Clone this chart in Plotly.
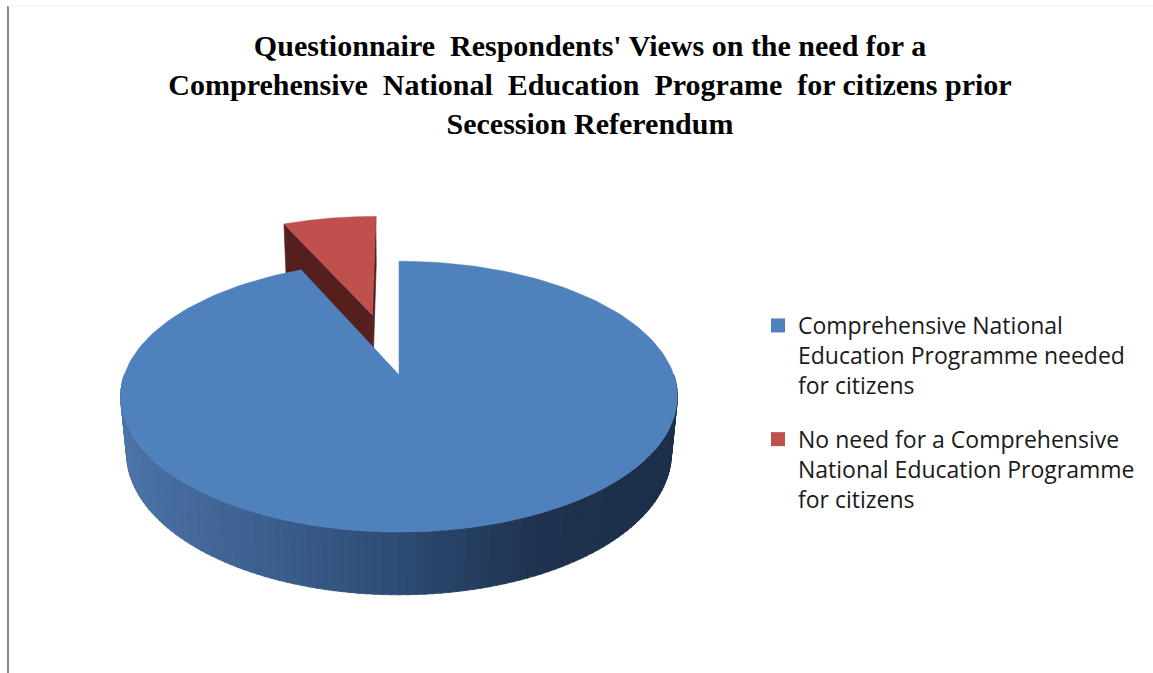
import numpy as np
import plotly.graph_objects as go

# Survey responses (share of respondents, %)
labels = [
    "Comprehensive National<br>Education Programme needed<br>for citizens",
    "No need for a Comprehensive<br>National Education Programme<br>for citizens",
]
values = [93.3, 6.7]
top_colors = ["#4F81BD", "#C0504D"]
wall_colors = ["#2E4C72", "#551F1D"]
pulls = [0.0, 0.5]

title_text = ("Questionnaire  Respondents' Views on the need for a<br>"
              "Comprehensive  National  Education  Programe  for citizens prior<br>"
              "Secession Referendum")

W, H = 1153, 673

# ---- simple perspective camera for the 3-D pie ----
PHI = np.radians(30)      # elevation of the viewer
DIST = 5.5                # viewer distance (in pie radii)
THICK = 0.23              # pie thickness (in pie radii)
CX, CY = 399, 431         # screen position of the pie centre
SX, SY = 269, 276         # pixels per pie radius
sphi, cphi = np.sin(PHI), np.cos(PHI)
CAM = np.array([0.0, DIST * sphi, -DIST * cphi])


def proj(X, Y, Z):
    X, Y, Z = np.asarray(X, float), np.asarray(Y, float), np.asarray(Z, float)
    v = Y * cphi + Z * sphi
    w = -Y * sphi + Z * cphi
    k = DIST / (DIST + w)
    return CX + SX * X * k, CY - SY * v * k


def poly(xs, ys, color, line_w=0.6):
    return go.Scatter(
        x=list(xs) + [xs[0]], y=list(ys) + [ys[0]], mode="lines",
        fill="toself", fillcolor=color, line=dict(color=color, width=line_w),
        hoverinfo="skip", showlegend=False,
    )


def side_color(px):
    # horizontal shading of the rim: lighter on the left, dark on the right
    stops = [(0.0, (76, 116, 168)), (0.45, (48, 80, 122)),
             (0.75, (31, 51, 80)), (1.0, (28, 46, 72))]
    t = float(np.clip((px - 120) / (678 - 120), 0, 1))
    for (t0, c0), (t1, c1) in zip(stops[:-1], stops[1:]):
        if t <= t1:
            f = (t - t0) / (t1 - t0)
            c = [round(a + (b - a) * f) for a, b in zip(c0, c1)]
            return "rgb(%d,%d,%d)" % tuple(c)
    return "rgb(%d,%d,%d)" % stops[-1][1]


# slice angles: first slice starts at 12 o'clock and runs clockwise
total = sum(values)
cum = np.concatenate([[0], np.cumsum(values)]) / total
slices = []
for i in range(len(values)):
    a0 = np.pi / 2 - cum[i] * 2 * np.pi
    a1 = np.pi / 2 - cum[i + 1] * 2 * np.pi
    mid = (a0 + a1) / 2
    off = (pulls[i] * np.cos(mid), pulls[i] * np.sin(mid))
    depth = off[1] + np.sin(mid)
    slices.append(dict(i=i, a0=a0, a1=a1, mid=mid, off=off, depth=depth))

fig = go.Figure()

# draw farthest slice first
for s in sorted(slices, key=lambda d: -d["depth"]):
    i, a0, a1, off = s["i"], s["a0"], s["a1"], s["off"]
    ox, oz = off

    # radial walls
    for ang in (a0, a1):
        d = np.array([np.cos(ang), 0, np.sin(ang)])
        n = np.array([-d[2], 0, d[0]])
        bis = np.array([np.cos(s["mid"]), 0, np.sin(s["mid"])])
        if np.dot(n, bis) > 0:
            n = -n
        midp = np.array([ox + 0.5 * d[0], THICK / 2, oz + 0.5 * d[2]])
        if np.dot(n, CAM - midp) > 0.05:
            X = [ox, ox + d[0], ox + d[0], ox]
            Y = [THICK, THICK, 0, 0]
            Z = [oz, oz + d[2], oz + d[2], oz]
            xs, ys = proj(X, Y, Z)
            fig.add_trace(poly(xs, ys, wall_colors[i]))

    # outer rim, only the part that faces the viewer
    lo, hi = min(a0, a1), max(a0, a1)
    for k0 in range(-2, 2):
        f0, f1 = np.pi + 2 * np.pi * k0, 2 * np.pi + 2 * np.pi * k0
        r0, r1 = max(lo, f0), min(hi, f1)
        if r1 <= r0:
            continue
        edges = np.linspace(r0, r1, 121)
        for t0, t1 in zip(edges[:-1], edges[1:]):
            tt = np.array([t0, t1 + 0.004])
            X = np.concatenate([ox + np.cos(tt), ox + np.cos(tt[::-1])])
            Z = np.concatenate([oz + np.sin(tt), oz + np.sin(tt[::-1])])
            Y = np.array([THICK, THICK, 0, 0])
            xs, ys = proj(X, Y, Z)
            fig.add_trace(poly(xs, ys, side_color(xs.mean()), 0.8))

    # top face
    tt = np.linspace(a0, a1, 200)
    X = np.concatenate([[ox], ox + np.cos(tt)])
    Z = np.concatenate([[oz], oz + np.sin(tt)])
    xs, ys = proj(X, np.full(len(X), THICK), Z)
    fig.add_trace(poly(xs, ys, top_colors[i], 0.5))

# legend entries
for k, (lab, col) in enumerate(zip(labels, top_colors)):
    fig.add_trace(go.Scatter(
        x=[None], y=[None], mode="markers", name=lab, legendgroup=f"g{k}",
        marker=dict(symbol="square", size=14, color=col),
    ))

fig.update_layout(
    width=W, height=H,
    margin=dict(l=0, r=0, t=0, b=0),
    paper_bgcolor="white", plot_bgcolor="white",
    xaxis=dict(range=[0, W], visible=False, fixedrange=True),
    yaxis=dict(range=[H, 0], visible=False, fixedrange=True),
    title=dict(
        text="<b>" + title_text + "</b>",
        x=590 / W, xanchor="center",
        y=1 - 56 / H, yanchor="top", yref="container",
        font=dict(family="Liberation Serif", size=30, color="black"),
    ),
    legend=dict(
        x=758 / W, xanchor="left", y=1 - 304 / H, yanchor="top",
        font=dict(family="Open Sans", size=23, color="#1a1a1a"),
        valign="top", tracegroupgap=21, bgcolor="rgba(0,0,0,0)",
    ),
    shapes=[
        dict(type="line", xref="paper", yref="paper",
             x0=8 / W, x1=8 / W, y0=0, y1=1 - 6 / H,
             line=dict(color="#8a8a8a", width=2)),
        dict(type="line", xref="paper", yref="paper",
             x0=8 / W, x1=1, y0=1 - 6 / H, y1=1 - 6 / H,
             line=dict(color="#eeeeee", width=1)),
    ],
)

fig.write_html("out.html")
